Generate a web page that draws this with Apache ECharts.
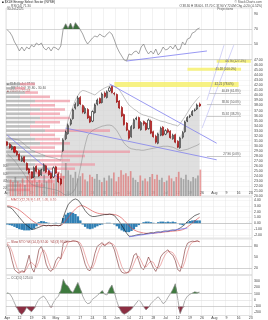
<!DOCTYPE html>
<html><head><meta charset="utf-8">
<script src="https://cdn.jsdelivr.net/npm/echarts@6/dist/echarts.min.js"></script>
<style>html,body{margin:0;padding:0;background:#fff}#c{width:268px;height:320px}</style>
</head><body><div id="c"></div>
<script>
// ---------- DATA ----------
const opens = [30.8,30.3,29.3,29.8,28.9,28.3,27.0,27.8,26.5,25.4, 24.8,23.8,25.9,25.1,24.2,25.0,26.0,25.0,24.5,23.8,
  25.8,24.4,23.4,29.0,31.4,32.4,34.3,35.4,37.5,38.0, 39.6,38.0,36.5,37.2,35.8,34.9,36.6,38.3,39.4,38.6,
  40.5,39.6,40.9,41.8,40.4,40.2,38.9,37.6,36.2,34.5, 33.0,31.8,33.5,35.3,35.6,33.2,34.8,34.5,33.4,34.9,
  32.8,31.9,30.5,32.1,33.7,32.3,33.2,32.9,31.4,32.2, 30.9,29.6,31.7,32.8,34.9,35.8,36.1,37.0,37.3,38.3];
const closes = [30.1,29.6,29.9,28.7,28.2,27.2,27.6,26.8,25.2,24.6, 23.6,25.6,24.9,24.0,25.2,26.2,24.8,24.2,23.6,25.6,
  24.6,22.8,22.4,31.1,32.7,34.0,35.1,37.1,38.2,39.5, 38.3,36.7,37.4,35.5,34.7,36.8,38.1,39.1,38.5,40.3,
  39.8,40.7,41.5,40.6,40.3,38.7,37.5,35.9,34.2,33.1, 31.5,33.8,35.1,35.5,33.5,34.6,34.3,33.2,35.1,32.5,
  31.8,30.7,32.3,33.5,32.1,33.0,32.7,31.6,32.1,30.7, 29.7,31.5,32.6,34.7,35.6,35.9,36.8,37.1,38.1,37.9];
const highs = [30.9,30.5,30.2,29.9,29.1,28.5,27.9,27.9,26.7,25.6, 24.9,25.9,26.1,25.3,25.4,26.5,26.2,25.2,24.7,25.9,
  26.0,24.7,23.6,31.5,33.0,34.4,35.4,37.4,38.6,39.9, 39.9,38.2,37.8,37.5,36.0,37.0,38.4,39.4,39.6,40.6,
  40.8,41.0,41.8,41.9,40.7,40.4,39.1,37.9,36.4,34.7, 33.2,34.1,35.4,35.8,35.8,34.9,35.0,34.7,35.4,35.2,
  33.0,32.2,32.6,33.8,33.9,33.3,33.5,33.1,32.4,32.4, 31.1,31.8,32.9,35.0,35.9,36.2,37.1,37.4,38.4,38.6];
const lows = [29.9,29.4,29.1,28.5,28.0,27.0,26.8,26.6,25.0,24.3, 23.4,23.6,24.7,23.8,24.0,24.9,24.6,24.0,23.4,23.6,
  24.4,22.6,22.1,28.8,31.1,32.2,34.0,35.2,37.2,37.8, 38.1,36.4,36.3,35.3,34.5,34.7,36.4,38.0,38.3,38.4,
  39.5,39.4,40.7,40.4,40.0,38.5,37.3,35.7,34.0,32.9, 31.2,31.6,33.3,35.1,33.3,33.0,34.0,33.0,33.2,32.3,
  31.6,30.4,30.3,31.9,31.9,32.1,32.5,31.4,31.2,30.5, 29.5,29.4,31.4,32.6,34.7,35.5,35.9,36.8,37.1,37.7];
const volume = [45,38,52,40,35,48,30,55,60,42, 50,38,44,36,58,40,46,52,35,48, 42,62,55,95,70,58,50,66,48,54,
  62,45,40,58,52,47,60,44,38,50, 42,56,48,64,40,52,70,58,62,54, 68,50,44,38,56,42,48,40,52,60,
  46,58,44,50,38,42,56,48,40,52, 66,50,46,58,44,40,52,48,56,72];
const bbUpper = [31.6,31.5,31.4,31.3,31.2,31.1,30.7,30.3,29.9,29.5, 29.1,28.9,28.7,28.5,28.3,28.1,27.9,27.8,27.7,27.6,
  27.5,27.3,27.1,30.4,33.0,35.1,36.5,37.8,39.1,40.0, 40.7,41.0,40.9,40.7,40.5,40.3,40.1,40.5,40.9,41.2,
  41.5,41.7,41.9,42.0,41.8,41.6,41.1,40.4,39.6,38.8, 38.1,37.7,37.3,37.0,36.6,36.3,36.1,36.0,35.8,35.7,
  35.5,35.3,35.1,34.9,34.8,34.7,34.5,34.4,34.2,34.1, 33.9,34.4,35.1,35.8,36.6,37.4,38.1,38.7,39.3,39.8];
const bbLower = [28.4,28.0,27.5,27.0,26.4,25.6,25.0,24.3,23.5,22.9, 22.3,22.1,21.9,21.8,21.7,21.7,21.6,21.5,21.4,21.3,
  21.2,21.0,20.8,20.4,20.2,20.2,20.4,20.8,21.5,23.2, 25.5,28.0,30.2,32.0,32.6,33.0,33.3,33.5,33.7,33.9,
  34.0,34.1,34.1,34.0,33.6,33.0,32.2,31.3,30.5,30.0, 29.6,29.4,29.3,29.2,29.2,29.1,29.1,29.2,29.3,29.4,
  29.5,29.6,29.7,29.8,29.9,29.9,29.9,29.8,29.7,29.5, 29.2,29.0,29.1,29.2,29.3,29.5,29.7,29.9,30.1,30.4];
const rsi = [68.7,66,60.7,52.7,47.3,40.7,46,40.7,46,43.3, 48.7,46,51.3,48.7,51.3,44.7,42,46,40.7,46,
  44.7,42,47.3,70.5,77,71,78,70.5,78.5,74, 69,63.3,55.3,50,54,58,60.7,59.3,63.3,60.7,
  59.3,63.3,66,63.3,55.3,46,39.3,34,28.7,27.3, 36.7,35.3,39.3,40.7,36.7,46,50,42,36.7,40.7,
  36.7,43.3,35.3,39.3,46,42,43.3,47.3,43.3,48.7, 42,43.3,52.7,48.7,56.7,58,64.7,66,70,71.3];
const macd = [2.83,2.75,2.5,2.0,1.5,1.0,0.5,0,-0.33,-0.67, -1.0,-1.0,-0.83,-0.67,-0.5,-0.33,-0.42,-0.33,-0.42,-0.33,
  -0.33,-0.42,-0.33,1.0,2.17,3.17,3.67,4.0,4.17,4.0, 3.5,2.83,2.17,1.67,1.33,1.17,1.17,1.25,1.33,1.42,
  1.5,1.5,1.58,1.5,1.33,0.83,0.33,-0.33,-1.0,-1.67, -2.2,-2.2,-2.1,-2.0,-1.9,-1.85,-1.9,-1.75,-1.7,-1.6,
  -1.65,-1.5,-1.45,-1.5,-1.35,-1.3,-1.35,-1.2,-1.15,-1.2, -1.0,-0.8,-0.5,-0.17,0.33,0.67,1.0,1.33,1.5,1.67];
const signal = [3.0,2.95,2.85,2.7,2.5,2.25,1.95,1.6,1.25,0.9, 0.55,0.25,0.0,-0.2,-0.3,-0.35,-0.38,-0.38,-0.38,-0.37,
  -0.36,-0.37,-0.36,-0.05,0.4,0.95,1.5,2.0,2.45,2.8, 3.0,3.0,2.85,2.6,2.35,2.1,1.9,1.75,1.65,1.6,
  1.55,1.55,1.55,1.55,1.5,1.4,1.2,0.9,0.5,0.05, -0.4,-0.8,-1.1,-1.3,-1.45,-1.55,-1.65,-1.7,-1.7,-1.7,
  -1.68,-1.65,-1.6,-1.58,-1.52,-1.45,-1.42,-1.38,-1.33,-1.3, -1.25,-1.2,-1.08,-0.9,-0.6,-0.3,0.05,0.4,0.75,1.05];
const hist = [-0.2,-0.3,-0.4,-0.6,-0.8,-1.0,-1.1,-1.2,-1.2,-1.2, -1.1,-0.9,-0.5,0.2,0.4,0.35,0.2,0.1,0.0,0.05,
  0.1,-0.05,0.05,0.9,1.5,1.8,1.9,1.8,1.6,1.2, 0.5,-0.2,-0.6,-0.9,-1.0,-0.9,-0.7,-0.5,-0.3,-0.2,
  0.0,0.1,0.1,0.0,-0.2,-0.5,-0.9,-1.2,-1.4,-1.5, -1.5,-1.3,-1.0,-0.6,-0.3,0.0,0.2,0.3,0.3,0.2,
  0.1,0.0,0.2,0.3,0.3,0.2,0.3,0.2,0.3,0.2, 0.0,-0.2,-0.3,-0.1,0.2,0.4,0.5,0.55,0.5,0.5];
const stochK = [85,70,40,15,8,5,12,8,30,55, 20,8,35,70,80,60,30,15,10,20, 40,50,45,88,92,94,93,95,94,92,
  80,55,30,15,12,30,60,80,85,90, 80,88,92,85,70,45,20,8,5,6, 10,30,55,60,40,20,15,30,50,35,
  20,10,25,50,60,65,70,60,55,40, 15,10,35,70,88,92,94,93,95,92];
const stochD = [88,80,65,42,21,9,8,8,17,31, 35,28,21,38,62,70,57,35,18,15, 23,37,45,61,75,91,93,94,94,93,
  89,76,55,33,19,19,34,57,75,85, 85,86,87,88,82,67,45,24,11,6, 7,15,32,48,52,40,25,22,32,38,
  35,22,18,28,45,58,65,65,62,52, 37,22,20,38,64,83,91,93,94,93];
const cci = [115,100,40,-50,-130,-200,-235,-190,-120,-160, -190,-140,-60,10,40,60,10,-60,-120,-40,
  20,60,150,330,250,220,150,120,200,280, 180,60,-20,-60,-50,10,40,70,110,150,
  90,80,180,240,120,-20,-130,-200,-230,-210, -180,-150,-100,-50,0,-40,-110,-160,-120,-60,
  -20,20,50,0,-60,-30,40,100,170,260, 20,-220,-130,0,60,90,110,130,120,125];
// volume-by-price rows, top (high price) to bottom
const vbpLevels = ['42.3','41.4','40.6','39.7','38.9','38.1','37.2','36.4','35.5','34.7','33.9','33.0','32.2',
  '31.4','30.5','29.7','28.8','28.0','27.2','26.3','25.5','24.7','23.8','23.0','22.2','21.3'];
const vbpDown = [14,9,19,14,29,24,34,24,34,29,24,39,24,29,34,24,29,39,34,29,44,24,34,19,14,9];
const vbpUp = [15,10,13,30,35,25,25,30,30,25,20,65,25,25,30,25,95,40,30,60,25,30,25,30,25,15];
// annotations: [startIndex, startValue, endIndex, endValue]
const priceTrendLines = [[0,32.1,22,23.2],[42,42.3,86,30.5],[24,33.5,86,27.2]];
const projectionLines = [[80,33.5,93,50.0],[82,39.1,89,50.0]];
const rsiTrendLine = [49,27.3,82,40.7];
const macdTrendLine = [50,-2.3,74,-0.8];
// yellow bands: [startIndex, top, endIndex, bottom, label]
const yellowBands = [[44,42.7,95,41.7,'42.21 (78.6%)'],[74,45.5,96,44.9,'45.18 (100.0%)'],[86,47.1,100,46.5,'46.76 (127.2%)']];
// horizontal level lines: [startIndex, endIndex, value, label]
const levelLines = [[83,96,40.5,'40.49 (61.8%)'],[82,96,38.3,'38.30 (50.0%)'],[82,96,35.9,'35.92 (38.2%)'],[82,96,28.0,'27.96 (0.0%)']];
const START_DATE = '2021-04-05';
const TOTAL_BARS = 101;
const monthNames = ['Jan','Feb','Mar','Apr','May','Jun','Jul','Aug','Sep','Oct','Nov','Dec'];

// ---------- categories (trading days) ----------
const dates = [];
{ let d = new Date(START_DATE + 'T00:00:00Z');
  while (dates.length < TOTAL_BARS) { const wd = d.getUTCDay(); if (wd !== 0 && wd !== 6) dates.push(d.toISOString().slice(0,10)); d.setUTCDate(d.getUTCDate()+1); } }
const dObj = dates.map(s => new Date(s + 'T00:00:00Z'));
const isWeekStart = dObj.map((d,i) => i === 0 || d.getUTCDay() < dObj[i-1].getUTCDay());
const weekInt = (idx) => isWeekStart[idx];
const prevWeekStart = (idx) => { for (let j = idx-1; j >= 0; j--) if (isWeekStart[j]) return j; return -1; };
const fmtDate = (val, idx) => { const p = prevWeekStart(idx); const d = dObj[idx];
  if (p < 0 || dObj[p].getUTCMonth() !== d.getUTCMonth()) return monthNames[d.getUTCMonth()];
  return String(d.getUTCDate()); };

const FONT = 'Liberation Sans';
const L = 6, R = 16;
function catAxis(gi, opts) {
  return Object.assign({ type:'category', gridIndex:gi, data:dates, boundaryGap:true,
    axisLine:{show:false}, axisTick:{show:false},
    splitLine:{show:true, interval:weekInt, lineStyle:{color:'#e4e4e4', width:0.5}},
    axisLabel:{show:false} }, opts || {});
}
function hLine(v, color) { return { yAxis:v, lineStyle:{color:color||'#b4b4b4', width:0.6, type:'solid'}, label:{show:false} }; }
function seg(a, color, w) { return [{coord:[a[0],a[1]], lineStyle:{color:color, width:w, type:'solid'}}, {coord:[a[2],a[3]]}]; }
function valueBox(v, txt) { return { yAxis:v, lineStyle:{opacity:0},
  label:{show:true, position:'end', distance:1, formatter:txt, fontSize:3.5, fontFamily:FONT, color:'#000',
   backgroundColor:'#fff', borderColor:'#777', borderWidth:0.5, padding:[0.5,1]} }; }

const priceTicks = []; for (let v = 20; v <= 57; v++) priceTicks.push(v); priceTicks.push(57.4);
const priceSplitColors = priceTicks.map(v => v <= 47 ? '#ececec' : 'rgba(0,0,0,0)');
const macdTicks = []; for (let v = -2.5; v <= 4.5001; v += 0.5) macdTicks.push(Math.round(v*10)/10);
const macdSplitColors = macdTicks.map(v => Number.isInteger(v) ? '#ececec' : 'rgba(0,0,0,0)');

const candleData = opens.map((o,i) => [o, closes[i], lows[i], highs[i]]);
const volData = volume.map((v,i) => ({ value:v, itemStyle:{ color: closes[i] < opens[i] ? 'rgba(222,95,95,0.6)' : 'rgba(110,110,110,0.5)' } }));
const last = closes.length - 1;

const option = {
  animation:false,
  backgroundColor:'#fff',
  textStyle:{fontFamily:FONT},
  grid:[
    {left:L, right:R, top:6.5, height:75},
    {left:L, right:R, top:8, height:188, show:true, borderColor:'#c4c4c4', borderWidth:0.5},
    {left:L, right:R, top:82, height:110},
    {left:L, right:R, top:163, height:33},
    {left:L, right:R, top:197, height:41, show:true, borderColor:'#c4c4c4', borderWidth:0.5},
    {left:L, right:R, top:239, height:36, show:true, borderColor:'#c4c4c4', borderWidth:0.5},
    {left:L, right:R, top:275, height:41, show:true, borderColor:'#c4c4c4', borderWidth:0.5}
  ],
  xAxis:[
    catAxis(0, {splitLine:{show:false}}),
    catAxis(1, {axisLabel:{show:true, inside:true, interval:weekInt, formatter:fmtDate, fontSize:3.5, color:'#444', margin:1, fontFamily:FONT}}),
    {type:'value', gridIndex:2, min:0, max:246, show:false},
    catAxis(3, {splitLine:{show:false}}),
    catAxis(4),
    catAxis(5),
    catAxis(6, {axisLabel:{show:true, interval:weekInt, formatter:fmtDate, fontSize:3.5, color:'#444', margin:0.5, fontFamily:FONT}})
  ],
  yAxis:[
    {type:'value', gridIndex:0, min:0, max:100, interval:10, position:'right', axisLine:{show:false}, axisTick:{show:false}, splitLine:{show:false},
      axisLabel:{fontSize:3.5, color:'#444', margin:2, fontFamily:FONT, formatter:v => (v===90||v===70||v===50) ? String(v) : ''}},
    {type:'value', gridIndex:1, min:20, max:57.4, interval:1, position:'right', axisLine:{show:false}, axisTick:{show:false},
      splitLine:{lineStyle:{color:priceSplitColors, width:0.5}},
      axisLabel:{fontSize:3.5, color:'#444', margin:2, fontFamily:FONT, formatter:v => v <= 47 ? v.toFixed(2) : ''}},
    {type:'category', gridIndex:2, data:vbpLevels, inverse:true, show:false},
    {type:'value', gridIndex:3, min:0, max:90, interval:20, position:'left', axisLine:{show:false}, axisTick:{show:false}, splitLine:{show:false},
      axisLabel:{fontSize:3, color:'#555', margin:0.5, fontFamily:FONT, formatter:v => (v>0 && v<90) ? v+'M' : ''}},
    {type:'value', gridIndex:4, min:-2.5, max:4.5, interval:0.5, position:'right', axisLine:{show:false}, axisTick:{show:false},
      splitLine:{lineStyle:{color:macdSplitColors, width:0.5}},
      axisLabel:{fontSize:3.5, color:'#444', margin:2, fontFamily:FONT, formatter:v => Number.isInteger(v) ? v.toFixed(2) : ''}},
    {type:'value', gridIndex:5, min:0, max:100, interval:10, position:'right', axisLine:{show:false}, axisTick:{show:false}, splitLine:{show:false},
      axisLabel:{fontSize:3.5, color:'#444', margin:2, fontFamily:FONT, formatter:v => (v===20||v===50||v===80) ? String(v) : ''}},
    {type:'value', gridIndex:6, min:-250, max:400, interval:50, position:'right', axisLine:{show:false}, axisTick:{show:false}, splitLine:{show:false},
      axisLabel:{fontSize:3.5, color:'#444', margin:2, fontFamily:FONT, formatter:v => (v % 100 === 0 && v > -250 && v < 400) ? String(v) : ''}}
  ],
  series:[
    {type:'line', xAxisIndex:1, yAxisIndex:1, data:closes, symbol:'none', z:1,
      lineStyle:{color:'#b0b0b0', width:0.5}, areaStyle:{color:'#d2d2d2'}},
    {type:'bar', xAxisIndex:2, yAxisIndex:2, data:vbpDown, stack:'vbp', barWidth:2.6, z:2,
      itemStyle:{color:'rgba(165,165,165,0.7)'}},
    {type:'bar', xAxisIndex:2, yAxisIndex:2, data:vbpUp, stack:'vbp', barWidth:2.6, z:2,
      itemStyle:{color:'rgba(238,150,162,0.7)'}},
    {type:'bar', xAxisIndex:3, yAxisIndex:3, data:volData, barWidth:'70%', z:3},
    {type:'line', xAxisIndex:1, yAxisIndex:1, data:bbUpper, symbol:'none', z:4, lineStyle:{color:'#858585', width:0.5}},
    {type:'line', xAxisIndex:1, yAxisIndex:1, data:bbLower, symbol:'none', z:4, lineStyle:{color:'#858585', width:0.5}},
    {type:'line', xAxisIndex:0, yAxisIndex:0, data:rsi.map(v => Math.max(v,70)), symbol:'none', z:4,
      lineStyle:{width:0}, areaStyle:{color:'#3d6e3d', origin:70, opacity:1}},
    {type:'line', xAxisIndex:0, yAxisIndex:0, data:rsi, symbol:'none', z:5, lineStyle:{color:'#7c7c7c', width:0.7},
      markLine:{silent:true, symbol:['none','none'], data:[hLine(30,'#bcbcbc'), hLine(50,'#bcbcbc'), hLine(70,'#bcbcbc'),
        seg(rsiTrendLine,'#7f7ff0',0.8), valueBox(rsi[last], rsi[last].toFixed(2))]}},
    {type:'candlestick', xAxisIndex:1, yAxisIndex:1, data:candleData, barWidth:'65%', z:6,
      itemStyle:{color:'#ffffff', color0:'#e01010', borderColor:'#111', borderColor0:'#8a0000', borderWidth:0.6},
      markLine:{silent:true, symbol:['none','none'], data:[
        ...priceTrendLines.map(a => seg(a,'#8282ee',0.8)),
        ...projectionLines.map(a => seg(a,'#a8a8f0',0.5)),
        ...levelLines.map(a => [{coord:[a[0],a[2]], lineStyle:{color:'#9a9a9a', width:0.5, type:'solid'},
            label:{show:true, position:'insideEndTop', formatter:a[3], fontSize:3, color:'#555', distance:0.5, fontFamily:FONT}}, {coord:[a[1],a[2]]}]),
        valueBox(closes[last], closes[last].toFixed(2))]},
      markArea:{silent:true, data: yellowBands.map(b => [{coord:[b[0],b[1]], itemStyle:{color:'rgba(246,240,110,0.85)'},
          label:{show:true, position:'insideRight', formatter:b[4], fontSize:3, color:'#555', fontFamily:FONT}}, {coord:[b[2],b[3]]}])}},
    {type:'bar', xAxisIndex:4, yAxisIndex:4, data:hist, barWidth:'100%', z:2, itemStyle:{color:'#2f7fb4'},
      markLine:{silent:true, symbol:['none','none'], data:[hLine(0,'#b0b0b0')]}},
    {type:'line', xAxisIndex:4, yAxisIndex:4, data:macd, symbol:'none', z:4, lineStyle:{color:'#111', width:0.6},
      markLine:{silent:true, symbol:['none','none'], data:[seg(macdTrendLine,'#7f7ff0',0.8), valueBox(macd[last], macd[last].toFixed(2))]}},
    {type:'line', xAxisIndex:4, yAxisIndex:4, data:signal, symbol:'none', z:3, lineStyle:{color:'#d83a3a', width:0.6}},
    {type:'line', xAxisIndex:5, yAxisIndex:5, data:stochK, symbol:'none', z:4, lineStyle:{color:'#7a2a2a', width:0.6},
      markLine:{silent:true, symbol:['none','none'], data:[hLine(20,'#b4b4b4'), hLine(80,'#b4b4b4'), valueBox(stochK[last], stochK[last].toFixed(2))]}},
    {type:'line', xAxisIndex:5, yAxisIndex:5, data:stochD, symbol:'none', z:3, lineStyle:{color:'#e27b7b', width:0.6}},
    {type:'line', xAxisIndex:6, yAxisIndex:6, data:cci.map(v => Math.max(v,100)), symbol:'none', z:2,
      lineStyle:{width:0}, areaStyle:{color:'#3e7a3e', origin:100, opacity:1}},
    {type:'line', xAxisIndex:6, yAxisIndex:6, data:cci.map(v => Math.min(v,-100)), symbol:'none', z:2,
      lineStyle:{width:0}, areaStyle:{color:'#8c2e42', origin:-100, opacity:1}},
    {type:'line', xAxisIndex:6, yAxisIndex:6, data:cci, symbol:'none', z:4, lineStyle:{color:'#8a8a8a', width:0.7},
      markLine:{silent:true, symbol:['none','none'], data:[hLine(100,'#b4b4b4'), hLine(0,'#dedede'), hLine(-100,'#b4b4b4'),
        valueBox(cci[last], cci[last].toFixed(2))]}}
  ],
  graphic:[
    {type:'text', style:{x:2, y:1, text:'\u25A0 $XLE Energy Select Sector (NYSE)', fontSize:3.2, fontFamily:FONT, fill:'#222'}},
    {type:'text', style:{x:7, y:4.6, text:'\u2014 RSI(14) ' + rsi[last].toFixed(2), fontSize:3.2, fontFamily:FONT, fill:'#555'}},
    {type:'text', style:{x:7, y:7.8, text:'30-Jul-2021', fontSize:3.2, fontFamily:FONT, fill:'#555'}},
    {type:'text', style:{x:262, y:1, text:'\u00A9 StockCharts.com', fontSize:3.2, fontFamily:FONT, fill:'#555', align:'right', textAlign:'right'}},
    {type:'text', style:{x:262, y:4.6, text:'O '+opens[last].toFixed(2)+' H '+highs[last].toFixed(2)+' L '+lows[last].toFixed(2)+' C '+closes[last].toFixed(2)+' V '+volume[last].toFixed(1)+'M Chg -0.20 (-0.52%)', fontSize:3.0, fontFamily:FONT, fill:'#444', align:'right', textAlign:'right'}},
    {type:'text', style:{x:233, y:7.8, text:'Projections', fontSize:3.2, fontFamily:FONT, fill:'#555', align:'right', textAlign:'right'}},
    {type:'text', style:{x:7, y:83, text:'\u25A0 XLE (Daily) ' + closes[last].toFixed(2), fontSize:3.2, fontFamily:FONT, fill:'#333'}},
    {type:'text', style:{x:7, y:86.3, text:'\u2014 BB(20,2.0) ' + bbUpper[last].toFixed(2) + ' - ' + bbLower[last].toFixed(2), fontSize:3.2, fontFamily:FONT, fill:'#555'}},
    {type:'text', style:{x:7, y:89.6, text:'\u25A0 Volume ' + volume[last].toFixed(1) + 'M', fontSize:3.2, fontFamily:FONT, fill:'#b04040'}},
    {type:'text', style:{x:7, y:198.5, text:'\u2014 MACD(12,26,9) ' + macd[last].toFixed(2) + ', ' + signal[last].toFixed(2) + ', ' + hist[last].toFixed(2), fontSize:3.2, fontFamily:FONT, fill:'#c03a3a'}},
    {type:'text', style:{x:7, y:240.5, text:'\u2014 Slow STO %K(14,3) ' + stochK[last].toFixed(2) + '  %D(3) ' + stochD[last].toFixed(2), fontSize:3.2, fontFamily:FONT, fill:'#a03a3a'}},
    {type:'text', style:{x:7, y:276.5, text:'\u2014 CCI(20) ' + cci[last].toFixed(2), fontSize:3.2, fontFamily:FONT, fill:'#555'}}
  ]
};
const chart = echarts.init(document.getElementById('c'), null, {renderer:'canvas'});
chart.setOption(option);
</script>
</body></html>
